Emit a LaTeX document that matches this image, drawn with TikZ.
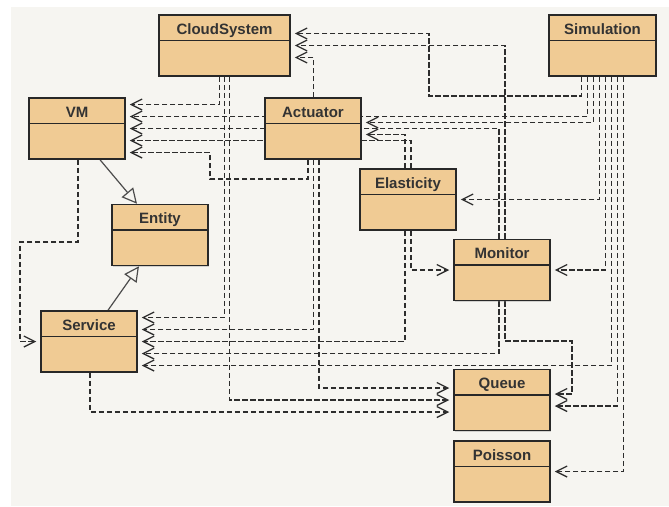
\documentclass[tikz,border=0pt]{standalone}
\usepackage{fontspec}
\setsansfont{Liberation Sans}
\usepackage{xcolor}
\usepackage{tikz}
\usetikzlibrary{arrows.meta, backgrounds, shadows}

\definecolor{clsfill}{RGB}{240,203,148}
\definecolor{panel}{RGB}{246,245,241}
\definecolor{wire}{RGB}{45,45,45}
\definecolor{boxline}{RGB}{40,40,40}

\tikzstyle{cls} = [rectangle, draw=boxline, line width=1.5pt, fill=clsfill, minimum width=96pt, minimum height=61pt, inner ysep=0pt, text height=8pt, text depth=30.4pt, text=black!80, font=\sffamily\bfseries\fontsize{15}{18}\selectfont, drop shadow={shadow xshift=1.2pt, shadow yshift=-1.2pt, opacity=0.3}, path picture={\draw[boxline, line width=1.2pt] ([yshift=-25.5pt]path picture bounding box.north west) -- ([yshift=-25.5pt]path picture bounding box.north east);}]
\tikzstyle{dep} = [draw=wire, line width=1.25pt, dash pattern=on 5.5pt off 2.5pt, -{Straight Barb[length=11pt, width=11pt]}, shorten >=4pt]
\tikzstyle{inherit} = [draw=wire!85, line width=1.2pt, -{Triangle[open, length=15pt, width=15pt]}]

\begin{document}
\begin{tikzpicture}[x=1pt, y=-1pt]
    \useasboundingbox (0,0) rectangle (669,506);

    \node[cls, minimum width=131pt] (cloud) at (224.5,45.5) {CloudSystem};
    \node[cls, minimum width=107pt] (sim) at (602.5,45.5) {Simulation};
    \node[cls] (vm) at (77,128.5) {VM};
    \node[cls] (act) at (313,128.5) {Actuator};
    \node[cls] (elas) at (408,199.5) {Elasticity};
    \node[cls] (ent) at (160,235) {Entity};
    \node[cls] (mon) at (502,270) {Monitor};
    \node[cls] (serv) at (89,341.5) {Service};
    \node[cls] (queue) at (502,400) {Queue};
    \node[cls] (pois) at (502,471.5) {Poisson};

    \begin{scope}[on background layer]
    \fill[panel] (11,7) rectangle (669,506);

    % generalisation
    \draw[inherit] ([xshift=23pt]vm.south) -- ([xshift=-23pt]ent.north);
    \draw[inherit] ([xshift=19pt]serv.north) -- ([xshift=-21pt]ent.south);

    % CloudSystem
    \draw[dep] ([xshift=-5pt]cloud.south) |- ([yshift=24pt]vm.east);
    \draw[dep] (cloud.south) |- ([yshift=24pt]serv.east);
    \draw[dep] ([xshift=5pt]cloud.south) |- (queue.west);

    % Simulation
    \draw[dep] ([xshift=-21pt]sim.south) |- (429,96) |- ([yshift=12pt]cloud.east);
    \draw[dep] ([xshift=-15pt]sim.south) |- ([yshift=12pt]vm.east);
    \draw[dep] ([xshift=-9pt]sim.south) |- ([yshift=6pt]act.east);
    \draw[dep] ([xshift=-3pt]sim.south) |- (elas.east);
    \draw[dep] ([xshift=3pt]sim.south) |- (mon.east);
    \draw[dep] ([xshift=9pt]sim.south) |- ([yshift=-24pt]serv.east);
    \draw[dep] ([xshift=15pt]sim.south) |- ([yshift=-6pt]queue.east);
    \draw[dep] ([xshift=21pt]sim.south) |- (pois.east);

    % Actuator
    \draw[dep] ([xshift=0.5pt]act.north) |- ([yshift=-12pt]cloud.east);
    \draw[dep] ([xshift=-5pt]act.south) |- (210,179) |- ([yshift=-24pt]vm.east);
    \draw[dep] ([xshift=0.5pt]act.south) |- ([yshift=12pt]serv.east);
    \draw[dep] ([xshift=6pt]act.south) |- ([yshift=12pt]queue.west);

    % Monitor
    \draw[dep] ([xshift=3pt]mon.north) |- (cloud.east);
    \draw[dep] ([xshift=-3pt]mon.north) |- (vm.east);
    \draw[dep] ([xshift=-3pt]mon.south) |- ([yshift=-12pt]serv.east);
    \draw[dep] ([xshift=3pt]mon.south) |- (572,341) |- ([yshift=6pt]queue.east);

    % Elasticity
    \draw[dep] ([xshift=-3pt]elas.north) |- ([yshift=-6pt]act.east);
    \draw[dep] ([xshift=3pt]elas.north) |- ([yshift=-12pt]vm.east);
    \draw[dep] ([xshift=-3pt]elas.south) |- (serv.east);
    \draw[dep] ([xshift=3pt]elas.south) |- (mon.west);

    % VM and Service
    \draw[dep] ([xshift=1pt]vm.south) |- (20,242) |- (serv.west);
    \draw[dep] ([xshift=1pt]serv.south) |- ([yshift=-12pt]queue.west);
    \end{scope}
\end{tikzpicture}
\end{document}
